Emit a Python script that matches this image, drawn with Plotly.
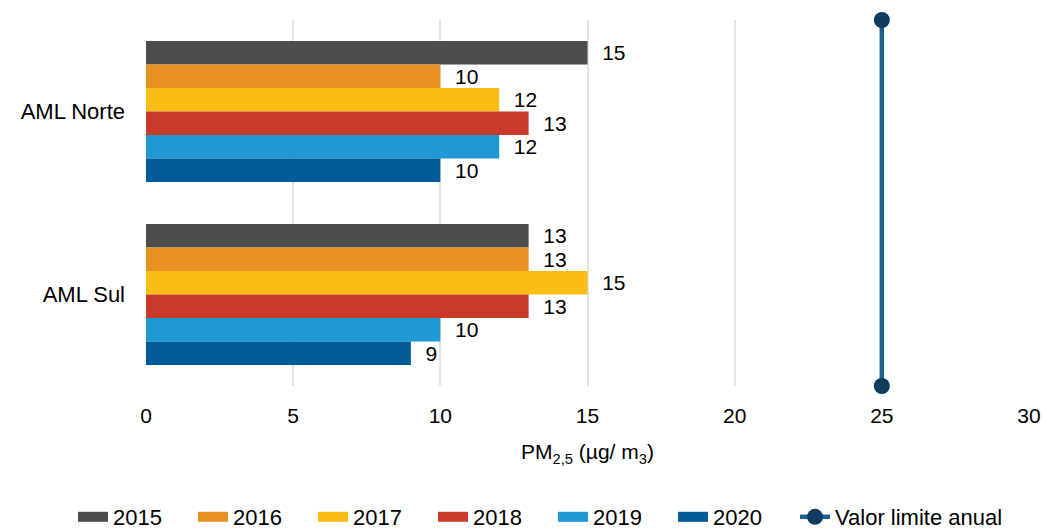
import plotly.graph_objects as go

categories = ["AML Norte", "AML Sul"]
years = ["2015", "2016", "2017", "2018", "2019", "2020"]
values = {
    "2015": [15, 13],
    "2016": [10, 13],
    "2017": [12, 15],
    "2018": [13, 13],
    "2019": [12, 10],
    "2020": [10, 9],
}
colors = ["#4d4d4d", "#ea9125", "#f9bd16", "#c93a2a", "#1e99d5", "#005c99"]
limit_value = 25
limit_label = "Valor limite anual"
x_ticks = [0, 5, 10, 15, 20, 25, 30]

FONT = "Liberation Sans, Arial, sans-serif"
fig = go.Figure()
for yr, col in zip(years, colors):
    fig.add_trace(go.Bar(
        y=categories, x=values[yr], name=yr, orientation="h",
        marker=dict(color=col, line=dict(width=0)),
        text=[f"\u00a0\u00a0{v}" for v in values[yr]],
        textposition="outside", cliponaxis=False,
        textfont=dict(size=21, color="#000000"),
        showlegend=False, legendgroup=yr,
    ))
# legend swatches (wide rectangles like the reference)
for yr, col in zip(years, colors):
    fig.add_trace(go.Scatter(
        x=[None], y=[None], name=yr, mode="lines",
        line=dict(color=col, width=16), legendgroup=yr, showlegend=True,
        legend="legend",
    ))

fig.add_trace(go.Scatter(
    x=[limit_value, limit_value], y=[0, 1], yaxis="y2", name=limit_label,
    mode="lines+markers",
    line=dict(color="#1c5f90", width=4.5),
    marker=dict(color="#0e3c60", size=16),
    cliponaxis=False, legend="legend2",
))

common_legend = dict(orientation="h", xanchor="left",
                     yref="container", y=12 / 529, yanchor="middle",
                     font=dict(size=22), itemwidth=30,
                     traceorder="normal", tracegroupgap=0, itemclick=False)

fig.update_layout(
    width=1046, height=529,
    margin=dict(l=146, r=17, t=20, b=143),
    paper_bgcolor="white", plot_bgcolor="white",
    font=dict(family=FONT, size=22, color="#000000"),
    barmode="group", bargap=0.23, bargroupgap=0,
    showlegend=True,
    legend=dict(common_legend, xref="container", x=73 / 1046, entrywidth=75),
    legend2=dict(common_legend, xref="container", x=795 / 1046),
    xaxis=dict(range=[0, 30], tickvals=x_ticks, showgrid=True, gridcolor="#e3e3e3",
               gridwidth=1.5, zeroline=False, showline=False, ticks="",
               tickfont=dict(size=21), ticklabelstandoff=15, automargin=False,
               title=dict(text="PM<sub>2,5</sub> (µg/ m<sub>3</sub>)", font=dict(size=21), standoff=18)),
    yaxis=dict(autorange="reversed", showgrid=False, zeroline=False, showline=False,
               ticks="", tickfont=dict(size=22), ticklabelstandoff=20, automargin=False),
    yaxis2=dict(overlaying="y", range=[0, 1], visible=False, showgrid=False),
)

fig.write_html("out.html", config={"displayModeBar": False},
               post_script="document.body.style.margin='0';")
